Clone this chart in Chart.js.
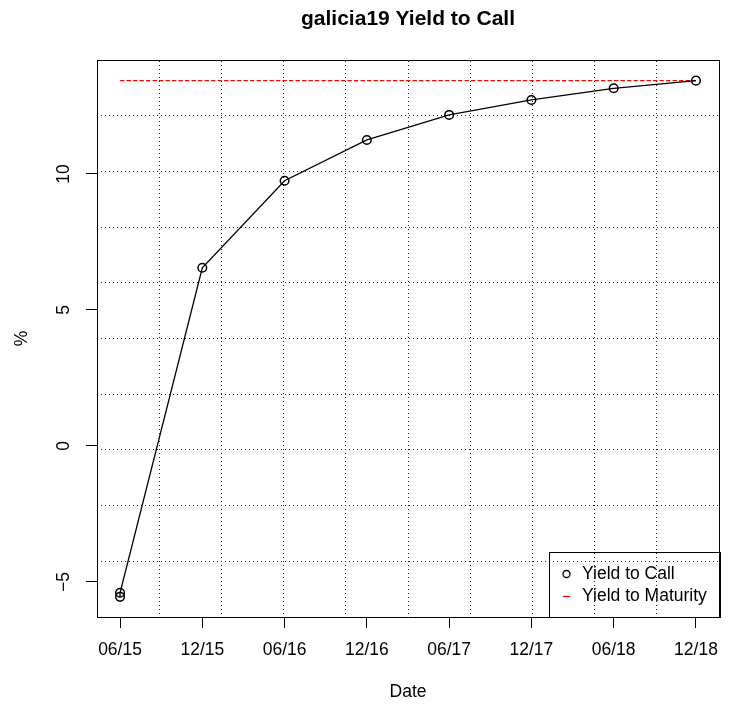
<!DOCTYPE html>
<html lang="en">
<head>
<meta charset="UTF-8">
<title>galicia19 Yield to Call</title>
<script src="https://cdn.jsdelivr.net/npm/chart.js"></script>
<style>
    body { margin: 0; background: #fff; }
    #wrap { width: 735px; height: 706px; }
</style>
</head>
<body>
<div id="wrap"><canvas id="ytc"></canvas></div>
<script>
// values
const dateLabels = ['06/15', '12/15', '06/16', '12/16', '06/17', '12/17', '06/18', '12/18'];
const callPos = [0, 0, 1, 2, 3, 4, 5, 6, 7];
const callYield = [-5.55, -5.4, 6.55, 9.75, 11.25, 12.17, 12.72, 13.15, 13.43];
const maturityPos = [0, 7];
const maturityYield = [13.43, 13.43];
const yTicks = [-5, 0, 5, 10];

const FONT = '"Liberation Sans", Arial, Helvetica, sans-serif';
Chart.defaults.font.family = FONT;
Chart.defaults.color = '#000';

// grid() style: evenly spaced dotted lines, not tied to the tick values
const gridColor = ctx => (ctx.tick && (ctx.tick.value === 0 || ctx.tick.value === 10)) ? 'rgba(0,0,0,0)' : '#222';

// R-like legend box in the bottom right corner of the plot
const boxLegend = {
    id: 'boxLegend',
    afterDraw(chart) {
        const {ctx, chartArea} = chart;
        const ds = chart.data.datasets;
        ctx.save();
        ctx.font = '17.5px ' + FONT;
        const textW = Math.max(...ds.map(d => ctx.measureText(d.label).width));
        const w = Math.round(textW + 46), h = 65;
        const x0 = Math.round(chartArea.right + 1 - w), y0 = Math.round(chartArea.bottom - h);
        ctx.strokeStyle = '#000';
        ctx.lineWidth = 1;
        ctx.strokeRect(x0 + 0.5, y0 + 0.5, w, h);
        ds.forEach((d, i) => {
            const y = y0 + 22 + i * 22.5;
            const sx = x0 + 17.5;
            ctx.strokeStyle = d.borderColor;
            ctx.lineWidth = 1.3;
            ctx.setLineDash([]);
            ctx.beginPath();
            if (d.pointRadius > 0) {
                ctx.arc(sx, y, 3.5, 0, Math.PI * 2);
            } else {
                ctx.moveTo(sx - 3.5, y);
                ctx.lineTo(sx + 3.5, y);
            }
            ctx.stroke();
            ctx.fillStyle = '#000';
            ctx.textAlign = 'left';
            ctx.textBaseline = 'middle';
            ctx.fillText(d.label, x0 + 33, y);
        });
        ctx.restore();
    }
};

new Chart(document.getElementById('ytc'), {
    type: 'line',
    data: {
        datasets: [{
            label: 'Yield to Call',
            data: callPos.map((x, i) => ({x: x, y: callYield[i]})),
            borderColor: '#000',
            borderWidth: 1.3,
            pointRadius: 4.3,
            pointBorderWidth: 1.5,
            pointBackgroundColor: 'rgba(0,0,0,0)',
            pointBorderColor: '#000',
            tension: 0
        }, {
            label: 'Yield to Maturity',
            data: maturityPos.map((x, i) => ({x: x, y: maturityYield[i]})),
            borderColor: '#ff0000',
            borderWidth: 1.3,
            borderDash: [4.3, 2.2],
            pointRadius: 0,
            tension: 0
        }]
    },
    options: {
        responsive: true,
        maintainAspectRatio: false,
        animation: false,
        layout: { padding: { left: 0, right: 16, top: 0, bottom: 0 } },
        plugins: {
            legend: { display: false },
            tooltip: { enabled: false },
            title: {
                display: true,
                text: 'galicia19 Yield to Call',
                fullSize: false,
                color: '#000',
                font: { size: 21, weight: 'bold' },
                padding: { top: 6.4, bottom: 28.4 }
            }
        },
        scales: {
            x: {
                type: 'linear',
                position: 'bottom',
                min: -0.28,
                max: 7.28,
                afterBuildTicks: s => { s.ticks = dateLabels.map((_, i) => ({value: i})); },
                afterFit: s => { s.height = 89; },
                ticks: {
                    callback: v => dateLabels[v],
                    autoSkip: false,
                    maxRotation: 0,
                    padding: 11.5,
                    color: '#000',
                    font: { size: 17.5 }
                },
                grid: { drawOnChartArea: false, drawTicks: true, tickLength: 11, color: '#000', lineWidth: 1 },
                border: { display: true, color: '#000', width: 1 },
                title: { display: true, text: 'Date', color: '#000', font: { size: 17.5 }, padding: { top: 0, bottom: 3.5 } }
            },
            y: {
                type: 'linear',
                position: 'left',
                min: -6.29,
                max: 14.19,
                afterBuildTicks: s => { s.ticks = yTicks.map(v => ({value: v})); },
                afterFit: s => { s.width = 97; },
                ticks: {
                    callback: v => String(v).replace('-', '\u2212'),
                    minRotation: 90,
                    maxRotation: 90,
                    crossAlign: 'center',
                    padding: 12,
                    color: '#000',
                    font: { size: 17.5 }
                },
                grid: { drawOnChartArea: false, drawTicks: true, tickLength: 11, color: '#000', lineWidth: 1 },
                border: { display: true, color: '#000', width: 1 },
                title: { display: true, text: '%', color: '#000', font: { size: 17.5 }, padding: { top: 11.5, bottom: 0 } }
            },
            gx: {
                type: 'linear',
                position: 'top',
                min: 0,
                max: 10,
                afterFit: s => { s.height = 0; },
                ticks: { display: false, stepSize: 1 },
                grid: { drawTicks: false, color: gridColor, lineWidth: 1 },
                border: { display: true, color: '#000', width: 1, dash: [1, 3] }
            },
            gy: {
                type: 'linear',
                position: 'right',
                min: 0,
                max: 10,
                afterFit: s => { s.width = 0; },
                ticks: { display: false, stepSize: 1 },
                grid: { drawTicks: false, color: gridColor, lineWidth: 1 },
                border: { display: true, color: '#000', width: 1, dash: [1, 3] }
            }
        }
    },
    plugins: [boxLegend]
});
</script>
</body>
</html>
